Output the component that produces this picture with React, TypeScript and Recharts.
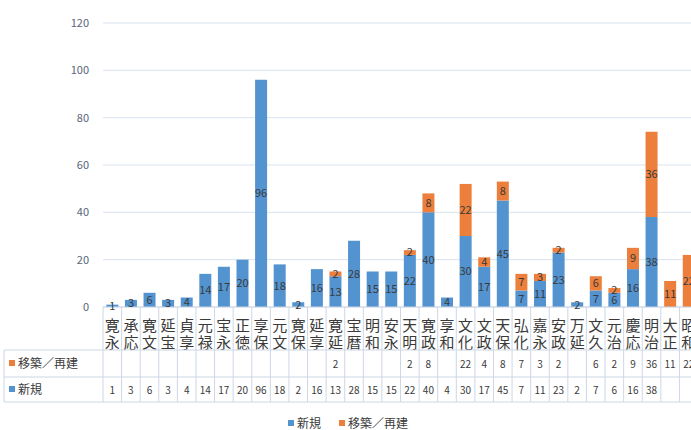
import React from 'react';
import { BarChart, Bar, XAxis, YAxis, CartesianGrid, LabelList } from 'recharts';

const categories = ['寛永', '承応', '寛文', '延宝', '貞享', '元禄', '宝永', '正徳', '享保', '元文', '寛保', '延享', '寛延', '宝暦', '明和', '安永', '天明', '寛政', '享和', '文化', '文政', '天保', '弘化', '嘉永', '安政', '万延', '文久', '元治', '慶応', '明治', '大正', '昭和'];
const newBuild = [1, 3, 6, 3, 4, 14, 17, 20, 96, 18, 2, 16, 13, 28, 15, 15, 22, 40, 4, 30, 17, 45, 7, 11, 23, 2, 7, 6, 16, 38, null, null];
const rebuild = [null, null, null, null, null, null, null, null, null, null, null, null, 2, null, null, null, 2, 8, null, 22, 4, 8, 7, 3, 2, null, 6, 2, 9, 36, 11, 22];
const yTicks = [0, 20, 40, 60, 80, 100, 120];

const NEW_LABEL = '新規';
const REBUILD_LABEL = '移築／再建';
const BLUE = '#5393d0';
const ORANGE = '#ec7f3c';
const TEXT = '#3a3a3a';
const LINE = '#cdd7e6';
const FONT = '"Noto Sans CJK JP", "Noto Sans", sans-serif';

const data = categories.map((name, i) => ({ name, newBuild: newBuild[i], rebuild: rebuild[i] }));

// plot geometry (shared by the chart and the data table under it)
const CHART_W = 700;
const PLOT_LEFT = 103;
const PLOT_RIGHT = 698;
const AXIS_Y = 307;
const ROW1 = 350;
const ROW2 = 377;
const ROW3 = 402;
const band = (PLOT_RIGHT - PLOT_LEFT) / categories.length;

const CatTick = (props: any) => {
  const { x, y, payload } = props;
  const s: string = payload.value;
  return (
    <g>
      <text x={x} y={y + 16} textAnchor="middle" fontSize={15} fill={TEXT} fontFamily={FONT}>{s[0]}</text>
      <text x={x} y={y + 33} textAnchor="middle" fontSize={15} fill={TEXT} fontFamily={FONT}>{s[1]}</text>
    </g>
  );
};

const fmt = (v: any) => (v == null ? '' : v);

const DataTable = () => (
  <svg width={CHART_W} height={430} style={{ position: 'absolute', left: 0, top: 0, pointerEvents: 'none' }}>
    {categories.map((_, i) => (
      <line key={'v' + i} x1={PLOT_LEFT + i * band} x2={PLOT_LEFT + i * band} y1={AXIS_Y} y2={ROW3} stroke={LINE} />
    ))}
    <line x1={PLOT_RIGHT} x2={PLOT_RIGHT} y1={AXIS_Y} y2={ROW3} stroke={LINE} />
    <line x1={4} x2={4} y1={ROW1} y2={ROW3} stroke={LINE} />
    {[ROW1, ROW2, ROW3].map((y) => (
      <line key={'h' + y} x1={4} x2={PLOT_RIGHT} y1={y} y2={y} stroke={LINE} />
    ))}
    <rect x={9} y={360} width={6} height={6} fill={ORANGE} />
    <text x={18} y={368} fontSize={12} fill={TEXT} fontFamily={FONT}>{REBUILD_LABEL}</text>
    <rect x={9} y={386} width={6} height={6} fill={BLUE} />
    <text x={18} y={394} fontSize={12} fill={TEXT} fontFamily={FONT}>{NEW_LABEL}</text>
    {categories.map((_, i) => (
      <g key={'t' + i}>
        <text x={PLOT_LEFT + (i + 0.5) * band} y={368} textAnchor="middle" fontSize={10} fill={TEXT} fontFamily={FONT}>{fmt(rebuild[i])}</text>
        <text x={PLOT_LEFT + (i + 0.5) * band} y={394} textAnchor="middle" fontSize={10} fill={TEXT} fontFamily={FONT}>{fmt(newBuild[i])}</text>
      </g>
    ))}
  </svg>
);

export default function App() {
  return (
    <div style={{ position: 'fixed', left: 0, top: 0, width: 691, height: 430, overflow: 'hidden', background: '#fff', fontFamily: FONT }}>
      <BarChart width={CHART_W} height={430} data={data} margin={{ top: 23, right: CHART_W - PLOT_RIGHT, bottom: 80, left: 0 }} barCategoryGap="18%">
        <CartesianGrid vertical={false} stroke="#d9e2ef" />
        <XAxis dataKey="name" interval={0} tickLine={false} axisLine={{ stroke: LINE }} height={ROW1 - AXIS_Y} tick={<CatTick />} />
        <YAxis width={PLOT_LEFT} domain={[0, 120]} ticks={yTicks} axisLine={false} tickLine={false} tickSize={0} tickMargin={14}
          tick={{ fontSize: 11, fill: '#5a6478', fontFamily: FONT }} />
        <Bar dataKey="newBuild" name={NEW_LABEL} stackId="a" fill={BLUE} isAnimationActive={false}>
          <LabelList dataKey="newBuild" position="center" fontSize={11} fill={TEXT} formatter={fmt} />
        </Bar>
        <Bar dataKey="rebuild" name={REBUILD_LABEL} stackId="a" fill={ORANGE} isAnimationActive={false}>
          <LabelList dataKey="rebuild" position="center" fontSize={11} fill={TEXT} formatter={fmt} />
        </Bar>
      </BarChart>
      <DataTable />
      <div style={{ position: 'absolute', top: 414, left: 288, display: 'flex', alignItems: 'center', fontSize: 12, color: TEXT }}>
        <span style={{ width: 6, height: 6, background: BLUE, display: 'inline-block', marginRight: 3 }} />
        <span>{NEW_LABEL}</span>
        <span style={{ width: 6, height: 6, background: ORANGE, display: 'inline-block', marginLeft: 18, marginRight: 3 }} />
        <span>{REBUILD_LABEL}</span>
      </div>
    </div>
  );
}
